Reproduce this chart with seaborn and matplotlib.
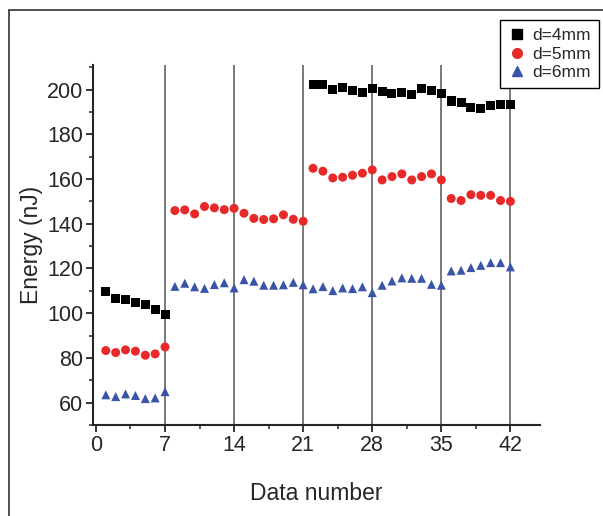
import numpy as np
import pandas as pd
import matplotlib
matplotlib.use("Agg")
import matplotlib.pyplot as plt
import seaborn as sns
from matplotlib.lines import Line2D
from matplotlib.ticker import MultipleLocator

# valores
x_4mm = list(range(1, 8)) + list(range(22, 43))
e_4mm = [109.7, 106.7, 106.2, 104.6, 103.7, 101.6, 99.5,
         202.1, 202.2, 199.9, 201.0, 199.6, 198.5, 200.6,
         199.0, 198.2, 198.7, 197.8, 200.3, 199.4, 198.4,
         194.9, 194.2, 191.9, 191.5, 192.7, 193.3, 193.2]

x_5mm = list(range(1, 43))
e_5mm = [83.3, 82.4, 83.6, 83.0, 81.2, 81.8, 84.9,
         145.9, 146.2, 144.4, 147.7, 147.1, 146.3, 146.9,
         144.7, 142.4, 141.9, 142.2, 144.0, 142.0, 141.1,
         164.8, 163.5, 160.5, 160.8, 161.7, 162.6, 164.1,
         159.6, 161.1, 162.3, 159.6, 161.1, 162.3, 159.6,
         151.3, 150.4, 153.0, 152.7, 152.7, 150.4, 150.0]

x_6mm = list(range(1, 43))
e_6mm = [63.5, 62.7, 63.9, 63.2, 61.8, 62.1, 64.9,
         112.0, 113.4, 111.8, 111.1, 112.8, 113.6, 111.3,
         115.0, 114.3, 112.5, 112.5, 112.7, 113.8, 112.7,
         110.9, 111.9, 110.1, 111.3, 111.0, 111.8, 109.2,
         112.5, 114.4, 115.8, 115.6, 115.6, 112.9, 112.5,
         118.9, 119.2, 120.4, 121.4, 122.6, 122.6, 120.7]

labels = ["d=4mm", "d=5mm", "d=6mm"]
xticks = [0, 7, 14, 21, 28, 35, 42]
yticks = [60, 80, 100, 120, 140, 160, 180, 200]
separadores = [7, 14, 21, 28, 35, 42]

df = pd.concat([
    pd.DataFrame({"n": x_4mm, "E": e_4mm, "d": labels[0]}),
    pd.DataFrame({"n": x_5mm, "E": e_5mm, "d": labels[1]}),
    pd.DataFrame({"n": x_6mm, "E": e_6mm, "d": labels[2]}),
])

sns.set_style("ticks")
plt.rcParams['font.family'] = ['Liberation Sans', 'DejaVu Sans']

colores = {labels[0]: "#000000", labels[1]: "#e8292a", labels[2]: "#3a55a8"}
marcadores = {labels[0]: "s", labels[1]: "o", labels[2]: "^"}

fig = plt.figure(figsize=(6.03, 5.16), dpi=100)
ax = fig.add_axes([93/603, 1 - 425/516, (540 - 93)/603, (425 - 65)/516])

for v in separadores:
    ax.axvline(v, color="#555555", lw=1.1, zorder=1)

sns.scatterplot(data=df, x="n", y="E", hue="d", style="d", palette=colores,
                markers=marcadores, s=42, edgecolor="none", ax=ax, zorder=3,
                legend=False)

ax.set_xlim(-0.3, 45)
ax.set_ylim(50, 211)
ax.set_xticks(xticks)
ax.set_yticks(yticks)
ax.xaxis.set_minor_locator(MultipleLocator(3.5))
ax.yaxis.set_minor_locator(MultipleLocator(10))
ax.tick_params(axis="both", which="major", labelsize=15.5, length=5, width=1.3,
               direction="out", pad=2)
ax.tick_params(axis="both", which="minor", length=3, width=1.1, direction="out")
ax.set_xlabel("Data number", fontsize=16.5, labelpad=19)
ax.set_ylabel("Energy (nJ)", fontsize=16.5, labelpad=3)
sns.despine(ax=ax)
for s in ["left", "bottom"]:
    ax.spines[s].set_linewidth(1.5)

handles = [Line2D([], [], ls="", marker=marcadores[l], color=colores[l], markersize=7)
           for l in labels]
leg = ax.legend(handles, labels, loc="upper right", fontsize=12.5,
                bbox_to_anchor=(599/603, 1 - 20/516), bbox_transform=fig.transFigure,
                frameon=True, fancybox=False, edgecolor="black", framealpha=1,
                handletextpad=0.4, borderpad=0.45, labelspacing=0.2, handlelength=1.0,
                borderaxespad=0)
leg.get_frame().set_linewidth(1.0)

# marco exterior (solo arriba e izquierda)
fig.add_artist(Line2D([9/603, 9/603], [0, 1 - 10/516], color="#333333", lw=1.2,
                      transform=fig.transFigure))
fig.add_artist(Line2D([9/603, 1], [1 - 10/516, 1 - 10/516], color="#333333", lw=1.2,
                      transform=fig.transFigure))

fig.savefig("out.png", dpi=100)
